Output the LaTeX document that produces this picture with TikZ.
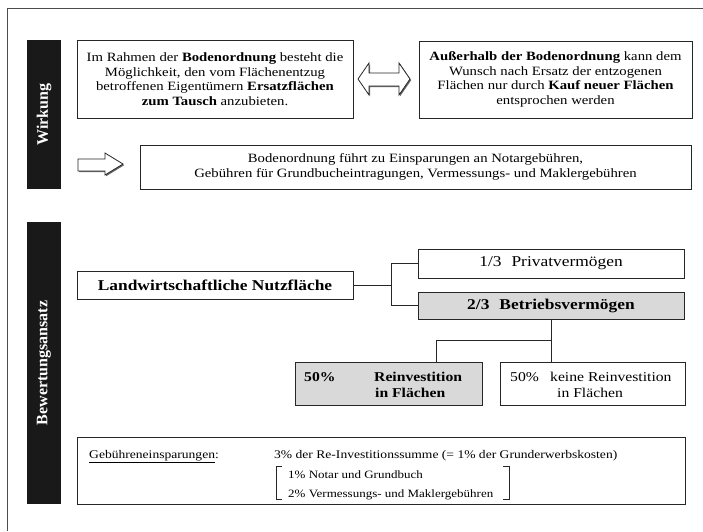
\documentclass[tikz,border=0pt]{standalone}
\usepackage{fontspec}
\setmainfont{Liberation Serif}[FakeStretch=1.16]
\newfontfamily\barfont{Liberation Serif}
\usetikzlibrary{shadows}
\begin{document}
\begin{tikzpicture}[x=1pt,y=-1pt,
  box/.style={draw=black!85, line width=0.8pt, fill=white, rectangle, inner sep=0pt, align=center,
     drop shadow={shadow xshift=1.4pt, shadow yshift=-1.4pt, fill=black!60, opacity=1}},
  graybox/.style={box, fill=black!15},
  bar/.style={fill=black!90, rectangle, inner sep=0pt, text=white, rotate=90,
     font=\barfont\bfseries\fontsize{16}{18}\selectfont},
  conn/.style={draw=black!85, line width=0.8pt},
  arrowshape/.style={draw=black!85, line width=0.8pt, fill=white,
     drop shadow={shadow xshift=1.2pt, shadow yshift=-1.2pt, fill=black!60, opacity=1}},
  txt/.style={inner sep=0pt, anchor=base west},
  mainf/.style={font=\fontsize{12.7}{14.5}\selectfont}]
\useasboundingbox (0,0) rectangle (703,531);
\draw[black!70, line width=1pt] (7,531) -- (7,8) -- (703,8);

% bars
\node[bar, minimum width=149pt, minimum height=34pt] (wirk) at (44,114.5) {Wirkung};
\node[bar, minimum width=282pt, minimum height=34pt] (bew) at (44,363) {Bewertungsansatz};

% top section
\node[box, mainf, minimum width=276pt, minimum height=78pt] (b1) at (215,79)
  {Im Rahmen der \textbf{Bodenordnung} besteht die\\ Möglichkeit, den vom Flächenentzug\\ betroffenen Eigentümern \textbf{Ersatzflächen}\\ \textbf{zum Tausch} anzubieten.};
\node[box, mainf, minimum width=273pt, minimum height=77pt] (b2) at (555.5,79.5)
  {\textbf{Außerhalb der Bodenordnung} kann dem\\ Wunsch nach Ersatz der entzogenen\\ Flächen nur durch \textbf{Kauf neuer Flächen}\\ entsprochen werden};
\node[box, font=\fontsize{12.7}{15}\selectfont, minimum width=551pt, minimum height=44pt] (b3) at (415.5,167)
  {Bodenordnung führt zu Einsparungen an Notargebühren,\\ Gebühren für Grundbucheintragungen, Vermessungs- und Maklergebühren};

\draw[arrowshape] (358,79) -- (369,63) -- (369,73) -- (399,73) -- (399,63) -- (410,79)
  -- (399,95) -- (399,86) -- (369,86) -- (369,95) -- cycle;
\draw[arrowshape] (78,159) -- (105,159) -- (105,153) -- (123,164) -- (105,175)
  -- (105,171) -- (78,171) -- cycle;

% tree
\node[box, font=\bfseries\fontsize{15}{17}\selectfont, minimum width=276pt, minimum height=28pt] (landw) at (215,285)
  {Landwirtschaftliche Nutzfläche};
\node[box, font=\fontsize{15}{17}\selectfont, minimum width=266pt, minimum height=29pt] (priv) at (551,263.5)
  {1/3\hspace{10pt}Privatvermögen};
\node[graybox, font=\bfseries\fontsize{15}{17}\selectfont, minimum width=266pt, minimum height=27pt] (betr) at (551,305.5)
  {2/3\hspace{10pt}Betriebsvermögen};
\node[graybox, minimum width=187pt, minimum height=43pt] (rein) at (388.5,383.5) {};
\node[box, minimum width=185pt, minimum height=43pt] (keine) at (592.5,383.5) {};

\node[txt, font=\bfseries\fontsize{13.5}{16}\selectfont] (r1) at (304,381) {50\%};
\node[txt, font=\bfseries\fontsize{13.5}{16}\selectfont] (r2) at (374,381) {Reinvestition};
\node[txt, font=\bfseries\fontsize{13.5}{16}\selectfont] (r3) at (375,397) {in Flächen};
\node[txt, font=\fontsize{13.5}{16}\selectfont] (k1) at (510,381) {50\%};
\node[txt, font=\fontsize{13.5}{16}\selectfont] (k2) at (550,381) {keine Reinvestition};
\node[txt, font=\fontsize{13.5}{16}\selectfont] (k3) at (557,397) {in Flächen};

\coordinate (j) at (391,285);
\draw[conn] (landw.east) -- (j);
\draw[conn] (priv.west) -| (j);
\draw[conn] (betr.west) -| (j);
\coordinate (k) at (436,340);
\draw[conn] (betr.south) -- (betr.south |- keine.north);
\draw[conn] (betr.south |- k) -| (k |- rein.north);

% fees
\node[box, minimum width=608pt, minimum height=67pt] (fee) at (381,470.5) {};
\node[txt, font=\fontsize{11.7}{14}\selectfont] (g1) at (89,458) {\underline{Gebühreneinsparungen}:};
\node[txt, font=\fontsize{11.7}{14}\selectfont] (g2) at (274,458) {3\% der Re-Investitionssumme (= 1\% der Grunderwerbskosten)};
\node[txt, font=\fontsize{11.2}{14}\selectfont] (g3) at (288,478) {1\% Notar und Grundbuch};
\node[txt, font=\fontsize{11.2}{14}\selectfont] (g4) at (288,497) {2\% Vermessungs- und Maklergebühren};
\draw[conn] (282,466) -- (276,466) -- (276,499) -- (282,499);
\draw[conn] (503,466) -- (509,466) -- (509,499) -- (503,499);
\end{tikzpicture}
\end{document}
